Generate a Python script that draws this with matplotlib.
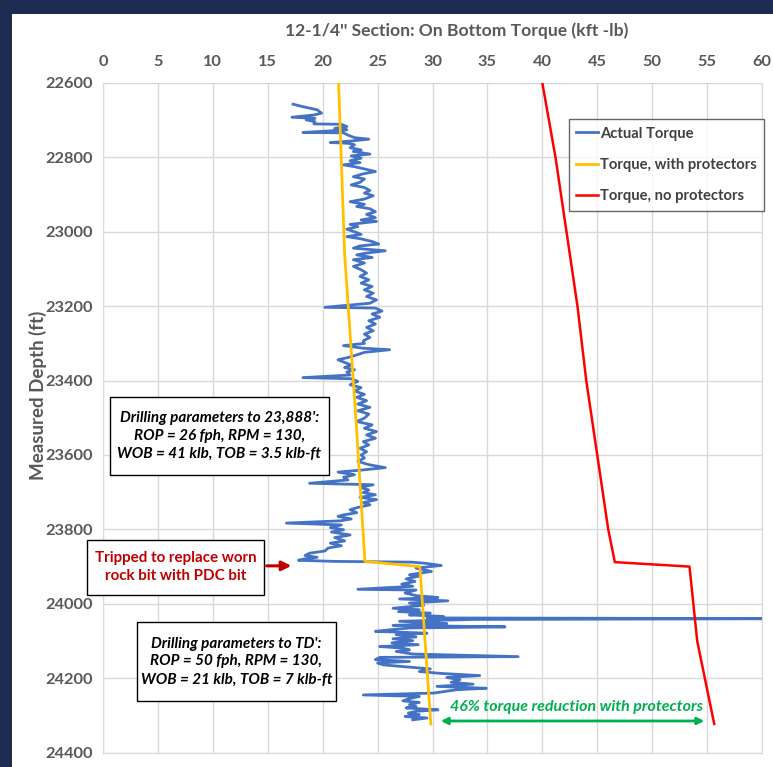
import matplotlib
matplotlib.use("Agg")
import matplotlib.pyplot as plt
from matplotlib.patches import Rectangle
import numpy as np

plt.rcParams['font.family'] = ['Lato', 'DejaVu Sans']

# Actual torque (kft-lb) vs measured depth (ft)
actual_depth = [
    22657, 22663, 22672, 22681, 22686, 22692, 22695, 22699, 22704, 22710,
    22711, 22717, 22722, 22726, 22733, 22734, 22740, 22747, 22751, 22756,
    22760, 22762, 22766, 22774, 22780, 22784, 22791, 22796, 22802, 22809,
    22814, 22820, 22825, 22831, 22838, 22844, 22852, 22858, 22867, 22874,
    22881, 22889, 22896, 22903, 22912, 22919, 22926, 22932, 22938, 22946,
    22953, 22962, 22968, 22972, 22980, 22986, 22993, 23000, 23007, 23013,
    23019, 23026, 23033, 23038, 23044, 23051, 23058,
    23062, 23069, 23075, 23084, 23093, 23102, 23111, 23120, 23129, 23138,
    23147, 23156, 23165, 23174, 23183, 23192, 23203, 23205, 23213, 23221,
    23230, 23239, 23248, 23257, 23266, 23275, 23284, 23293, 23300, 23306,
    23313, 23317, 23324, 23331, 23338, 23344, 23350, 23358, 23365, 23371,
    23377, 23385, 23392, 23395, 23402, 23411, 23419, 23428, 23437, 23445,
    23454, 23463, 23472, 23481, 23490,
    23501, 23510, 23519, 23528, 23537, 23546, 23555, 23564, 23573, 23582,
    23591, 23600, 23608, 23617, 23626, 23634, 23640, 23646, 23653, 23660,
    23667, 23676, 23680, 23687, 23694, 23701, 23707, 23714, 23720, 23728,
    23734, 23741, 23747, 23755, 23761, 23765, 23772, 23777, 23783, 23788,
    23795, 23801, 23807, 23815, 23822, 23831, 23837, 23844, 23850, 23858,
    23864, 23870, 23875, 23879, 23883, 23886, 23888, 23891, 23897, 23904,
    23913,
    23922, 23926, 23933, 23940, 23947, 23953, 23961, 23963, 23971, 23978,
    23983, 23987, 23992, 23998, 24004, 24012, 24016, 24021, 24025, 24030,
    24034, 24038, 24040, 24042, 24047, 24053, 24058, 24062, 24065, 24070,
    24074, 24079, 24083, 24089, 24094, 24099, 24105, 24110, 24115, 24119,
    24124, 24128, 24135, 24142, 24144, 24150, 24155, 24159, 24164, 24168,
    24175, 24182, 24187, 24193, 24198, 24204, 24211, 24216, 24222, 24227,
    24231, 24236, 24240, 24245, 24249, 24255, 24261, 24265, 24271, 24276,
    24280, 24285, 24289, 24294, 24298, 24303, 24307, 24312,
]
actual_torque = [
    17.3, 18.1, 19.5, 19.9, 19.2, 17.2, 19.3, 18.5, 19.3, 19.2,
    21.7, 22.2, 21.1, 22.2, 18.2, 21.9, 22.3, 22.9, 24.2, 22.6,
    20.7, 22.3, 22.9, 22.5, 23.5, 22.8, 24.3, 22.6, 23.5, 22.5,
    23.4, 21.9, 22.9, 23.8, 24.8, 23.7, 22.8, 23.8, 23.4, 22.6,
    23.8, 24.3, 23.8, 24.6, 23.8, 22.5, 23.8, 23.1, 24.3, 24.8,
    24.0, 24.8, 23.5, 24.9, 22.5, 23.2, 22.2, 22.9, 23.5, 22.2,
    23.5, 24.5, 25.1, 23.4, 22.8, 25.7, 23.8,
    23.1, 24.5, 22.8, 23.8, 22.8, 23.5, 24.0, 23.4, 24.2, 23.5,
    24.5, 23.8, 24.6, 24.0, 24.9, 24.3, 20.2, 24.8, 25.4, 24.5,
    25.2, 24.2, 24.8, 24.0, 24.6, 23.8, 24.3, 23.7, 23.8, 21.9,
    23.7, 26.1, 23.8, 23.1, 22.3, 21.4, 21.9, 22.6, 22.0, 22.9,
    22.2, 22.5, 18.2, 22.6, 23.2, 22.5, 23.5, 22.9, 23.8, 23.1,
    24.0, 23.2, 24.3, 23.2, 24.2,
    23.8, 23.1, 24.5, 23.8, 24.9, 24.0, 24.8, 23.7, 24.2, 23.4,
    24.0, 23.5, 23.8, 23.2, 24.2, 25.7, 23.7, 21.4, 22.9, 21.9,
    22.3, 18.8, 24.6, 23.4, 24.2, 23.7, 24.8, 23.4, 24.9, 23.7,
    24.3, 23.2, 22.5, 23.1, 21.9, 21.4, 22.6, 21.6, 16.7, 21.7,
    20.7, 21.9, 20.8, 22.5, 21.1, 22.0, 20.7, 21.7, 20.5, 20.2,
    18.8, 18.4, 19.5, 18.4, 17.8, 21.1, 28.1, 29.3, 30.8, 28.5,
    29.9,
    27.9, 28.7, 27.6, 28.4, 27.2, 28.2, 23.2, 28.5, 27.5, 28.5,
    30.5, 27.0, 31.4, 27.9, 29.2, 26.4, 28.8, 26.9, 29.8, 27.9,
    31.0, 29.5, 65.0, 33.7, 27.0, 31.3, 26.4, 36.6, 27.9, 26.1,
    24.8, 29.5, 26.7, 28.5, 26.4, 28.2, 26.3, 28.7, 25.2, 27.3,
    27.9, 26.7, 28.2, 37.8, 25.2, 24.8, 27.9, 25.0, 25.5, 27.0,
    29.8, 28.8, 30.7, 34.3, 31.3, 32.5, 31.7, 33.7, 30.4, 34.9,
    32.2, 31.0, 30.1, 23.7, 28.8, 27.9, 27.3, 28.8, 27.9, 28.5,
    27.6, 30.5, 28.5, 27.8, 28.8, 27.5, 29.5, 28.2,
]

# Model torque with protectors
prot_depth = [22600, 23060, 23490, 23886, 23900, 24323]
prot_torque = [21.45, 22.0, 23.0, 23.85, 28.85, 29.85]

# Model torque without protectors
noprot_depth = [22600, 22800, 23000, 23200, 23400, 23600, 23800, 23888, 23900, 24100, 24323]
noprot_torque = [40.0, 41.2, 42.2, 43.2, 44.0, 45.0, 46.0, 46.6, 53.4, 54.1, 55.65]

xticks = list(range(0, 61, 5))
yticks = list(range(22600, 24401, 200))

gray = '#595959'

fig = plt.figure(figsize=(7.73, 7.67), dpi=100)
fig.patch.set_facecolor('#1C2B4F')
fig.patches.append(Rectangle((12 / 773, 0), 1, (767 - 14) / 767, transform=fig.transFigure,
                             facecolor='white', edgecolor='none', zorder=-5))

ax = fig.add_axes([103 / 773, 1 - 752.6 / 767, 659 / 773, 669.6 / 767])
ax.set_facecolor('white')

ax.plot(actual_torque, actual_depth, color='#4472C4', lw=2.0, label='Actual Torque', zorder=3)
ax.plot(prot_torque, prot_depth, color='#FFC000', lw=2.0, label='Torque, with protectors', zorder=4)
ax.plot(noprot_torque, noprot_depth, color='#FF0000', lw=1.8, label='Torque, no protectors', zorder=4)

ax.set_xlim(0, 60)
ax.set_ylim(24400, 22600)
ax.set_xticks(xticks)
ax.set_yticks(yticks)
ax.xaxis.tick_top()
ax.tick_params(length=0, labelsize=11.8, labelcolor=gray)
ax.tick_params(axis='x', pad=10)
ax.tick_params(axis='y', pad=7)
for lab in ax.get_xticklabels() + ax.get_yticklabels():
    lab.set_fontweight('bold')
ax.grid(True, color='#D9D9D9', lw=1.0, zorder=0)
ax.set_axisbelow(True)
for sp in ax.spines.values():
    sp.set_color('#D9D9D9')

fig.text(457 / 773, 1 - 31 / 767, "12-1/4'' Section: On Bottom Torque (kft -lb)", ha='center', va='center',
         fontsize=12.6, fontweight='bold', color=gray)
fig.text(38 / 773, 1 - 395 / 767, "Measured Depth (ft)", rotation=90, ha='center', va='center',
         fontsize=13.5, fontweight='bold', color=gray)

leg = ax.legend(loc='upper right', bbox_to_anchor=(1.003, 0.946), borderaxespad=0, fancybox=False,
                handlelength=1.5, handletextpad=0.1, labelspacing=1.18, borderpad=0.5,
                prop={'size': 10.6, 'weight': 'bold'})
leg.get_frame().set_edgecolor('#404040')
leg.get_frame().set_linewidth(1.0)
for t in leg.get_texts():
    t.set_color('#404040')


# text boxes (rectangles drawn in data units)
def box(x0, x1, d0, d1):
    ax.add_patch(Rectangle((x0, d0), x1 - x0, d1 - d0, facecolor='white', edgecolor='black',
                           lw=1.0, zorder=6, clip_on=False))


box(0.63, 20.56, 23444, 23654)
ax.text(10.6, 23549, "Drilling parameters to 23,888':\nROP = 26 fph, RPM = 130,\nWOB = 41 klb, TOB = 3.5 klb-ft",
        ha='center', va='center', fontsize=11.0, fontweight='bold', style='italic', linespacing=1.35, zorder=7)

box(-1.47, 14.65, 23828, 23976)
ax.text(6.6, 23902, "Tripped to replace worn\nrock bit with PDC bit", ha='center', va='center',
        fontsize=10.9, fontweight='bold', color='#C00000', linespacing=1.35, zorder=7, clip_on=False)
ax.annotate('', xy=(17.4, 23898), xytext=(14.65, 23898),
            arrowprops=dict(arrowstyle='-|>', color='#C00000', lw=2.2, mutation_scale=14), zorder=7)

box(3.08, 21.2, 24049, 24261)
ax.text(12.15, 24155, "Drilling parameters to TD':\nROP = 50 fph, RPM = 130,\nWOB = 21 klb, TOB = 7 klb-ft",
        ha='center', va='center', fontsize=11.0, fontweight='bold', style='italic', linespacing=1.35, zorder=7)

ax.text(43.15, 24277, "46% torque reduction with protectors", ha='center', va='center',
        fontsize=11.5, fontweight='bold', style='italic', color='#00B050', zorder=7)
ax.annotate('', xy=(55.0, 24315), xytext=(30.5, 24315),
            arrowprops=dict(arrowstyle='<|-|>', color='#00B050', lw=2.0, mutation_scale=10), zorder=7)

fig.savefig("out.png", dpi=100, facecolor=fig.get_facecolor())
